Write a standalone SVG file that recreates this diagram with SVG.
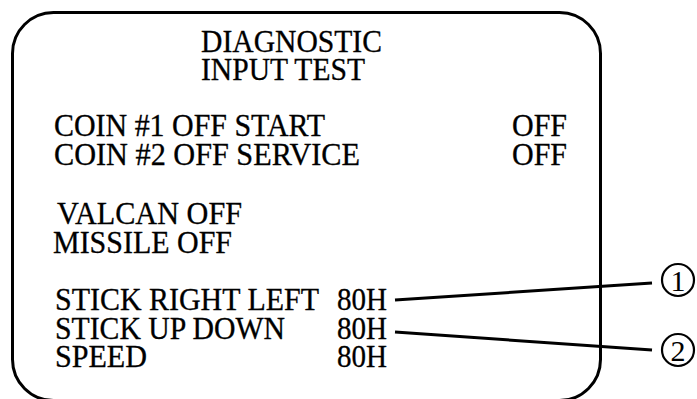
<svg xmlns="http://www.w3.org/2000/svg" width="697" height="399" viewBox="0 0 697 399">
<style>
.t{font-family:"Liberation Serif","Times New Roman",serif;font-size:30.5px;fill:#000;stroke:#000;stroke-width:0.3}
.d{font-family:"Liberation Serif","Times New Roman",serif;font-size:30px;fill:#000;text-anchor:middle}
.c{fill:none;stroke:#000;stroke-width:2.2}
.ln{stroke:#000;stroke-width:3;fill:none;stroke-linecap:butt}
</style>
<rect width="697" height="399" fill="#fff"/>
<g id="screen">
<rect x="12.5" y="12.5" width="588" height="388" rx="41" ry="41" fill="none" stroke="#000" stroke-width="3"/>
<text class="t" x="201" y="52" textLength="181" lengthAdjust="spacingAndGlyphs">DIAGNOSTIC</text>
<text class="t" x="201" y="80" textLength="164" lengthAdjust="spacingAndGlyphs">INPUT TEST</text>
<text class="t" x="54" y="136" textLength="271" lengthAdjust="spacingAndGlyphs">COIN #1 OFF START</text>
<text class="t" x="54" y="165" textLength="306" lengthAdjust="spacingAndGlyphs">COIN #2 OFF SERVICE</text>
<text class="t" x="512" y="136" textLength="55" lengthAdjust="spacingAndGlyphs">OFF</text>
<text class="t" x="512" y="165" textLength="55" lengthAdjust="spacingAndGlyphs">OFF</text>
<text class="t" x="57" y="224" textLength="185" lengthAdjust="spacingAndGlyphs">VALCAN OFF</text>
<text class="t" x="53" y="253" textLength="179" lengthAdjust="spacingAndGlyphs">MISSILE OFF</text>
<text class="t" x="55" y="310" textLength="264" lengthAdjust="spacingAndGlyphs">STICK RIGHT LEFT</text>
<text class="t" x="55" y="339" textLength="230" lengthAdjust="spacingAndGlyphs">STICK UP DOWN</text>
<text class="t" x="55" y="367" textLength="92" lengthAdjust="spacingAndGlyphs">SPEED</text>
<text class="t" x="337" y="310" textLength="50" lengthAdjust="spacingAndGlyphs">80H</text>
<text class="t" x="337" y="339" textLength="50" lengthAdjust="spacingAndGlyphs">80H</text>
<text class="t" x="337" y="367" textLength="50" lengthAdjust="spacingAndGlyphs">80H</text>
</g>
<g id="callout1">
<circle class="c" cx="678" cy="280" r="16"/>
<text class="d" x="678" y="290.5">1</text>
</g>
<g id="callout2">
<circle class="c" cx="678" cy="350" r="16"/>
<text class="d" x="678" y="360.5">2</text>
</g>
<g id="connectors">
<line class="ln" x1="395" y1="300" x2="652" y2="283"/>
<line class="ln" x1="395" y1="332" x2="652" y2="350"/>
</g>
</svg>
